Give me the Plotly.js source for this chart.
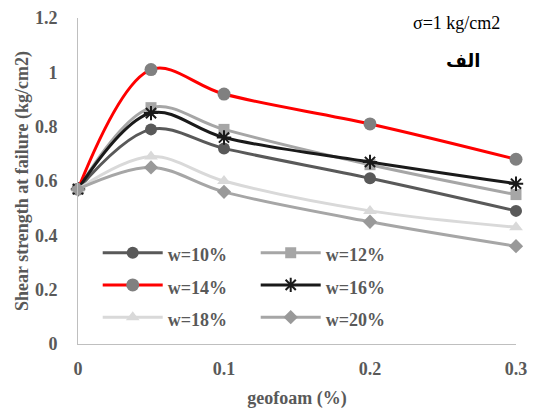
<!DOCTYPE html>
<html>
<head>
<meta charset="utf-8">
<script src="https://cdn.plot.ly/plotly-3.0.1.min.js"></script>
<style>html,body{margin:0;padding:0;background:#fff;}#chart{width:533px;height:409px;}</style>
</head>
<body>
<div id="chart"></div>
<script>
const geofoam = [0, 0.05, 0.1, 0.2, 0.3];
const seriesNames = ["w=10%", "w=12%", "w=14%", "w=16%", "w=18%", "w=20%"];
const w10 = [0.57, 0.79, 0.72, 0.61, 0.49];
const w12 = [0.57, 0.87, 0.79, 0.66, 0.55];
const w14 = [0.57, 1.01, 0.92, 0.81, 0.68];
const w16 = [0.57, 0.85, 0.76, 0.67, 0.59];
const w18 = [0.57, 0.69, 0.60, 0.49, 0.43];
const w20 = [0.57, 0.65, 0.56, 0.45, 0.36];
const xTicks = [0, 0.1, 0.2, 0.3];
const xTickLabels = ["0", "0.1", "0.2", "0.3"];
const yTicks = [0, 0.2, 0.4, 0.6, 0.8, 1, 1.2];
const yTickLabels = ["0", "0.2", "0.4", "0.6", "0.8", "1", "1.2"];

const values = [w10, w12, w14, w16, w18, w20];
const lineColors = ["#595959", "#A6A6A6", "#FF0000", "#1A1A1A", "#D9D9D9", "#A6A6A6"];
const markerColors = ["#595959", "#A6A6A6", "#808080", "#1A1A1A", "#D9D9D9", "#999999"];
const symbols = ["circle", "square", "circle", "asterisk-open", "triangle-up", "diamond"];
const sizes = [12, 11, 13, 12, 12, 11];

const bold = s => "<b>" + s + "</b>";
const legendLabel = s => '<span style="font-size:18px"><b>' + s + '</b></span>';

const traces = values.map((v, i) => ({
  x: geofoam, y: v, name: legendLabel(seriesNames[i]), type: "scatter", mode: "lines+markers",
  line: {color: lineColors[i], width: 3, shape: "spline", smoothing: 1},
  marker: {symbol: symbols[i], color: markerColors[i], size: sizes[i],
           line: {color: markerColors[i], width: symbols[i] === "asterisk-open" ? 2 : 0}},
  cliponaxis: false
}));

const serif = "Liberation Serif";
const tickFont = {family: serif, size: 18, color: "#595959", weight: "bold"};
const layout = {
  width: 533, height: 409,
  font: {family: serif},
  margin: {l: 78, r: 17, t: 18, b: 65},
  paper_bgcolor: "#fff", plot_bgcolor: "#fff",
  showlegend: true,
  legend: {orientation: "h", x: 0.045, y: 0.345, xanchor: "left", yanchor: "top",
           entrywidth: 83, itemwidth: 60,
           font: {family: serif, size: 22.5, color: "#595959", weight: "bold"},
           bgcolor: "rgba(0,0,0,0)"},
  xaxis: {range: [0, 0.3], tickvals: xTicks, ticktext: xTickLabels.map(bold), showgrid: false, zeroline: false, showline: true,
          linecolor: "#BFBFBF", linewidth: 1, ticks: "", tickfont: tickFont, ticklabelstandoff: 8,
          title: {text: bold("geofoam (%)"), font: {family: serif, size: 18, color: "#595959"}, standoff: 14}},
  yaxis: {range: [0, 1.2], tickvals: yTicks, ticktext: yTickLabels.map(bold), showgrid: false, zeroline: false, showline: true,
          linecolor: "#BFBFBF", linewidth: 1, ticks: "", tickfont: tickFont, ticklabelstandoff: 16,
          title: {text: bold("Shear strength at failure (kg/cm2)"), font: {family: serif, size: 18, color: "#595959"}, standoff: 1}},
  annotations: [
    {text: "σ=1 kg/cm2", xref: "paper", yref: "paper", x: 0.968, y: 0.985, xanchor: "right", yanchor: "middle",
     showarrow: false, font: {family: serif, size: 18, color: "#000"}},
    {text: "<b>الف</b>", xref: "paper", yref: "paper", x: 0.879, y: 0.87, xanchor: "center", yanchor: "middle",
     showarrow: false, font: {family: "DejaVu Sans", size: 18, color: "#000"}}
  ]
};
Plotly.newPlot("chart", traces, layout, {displayModeBar: false, staticPlot: true});
</script>
</body>
</html>
